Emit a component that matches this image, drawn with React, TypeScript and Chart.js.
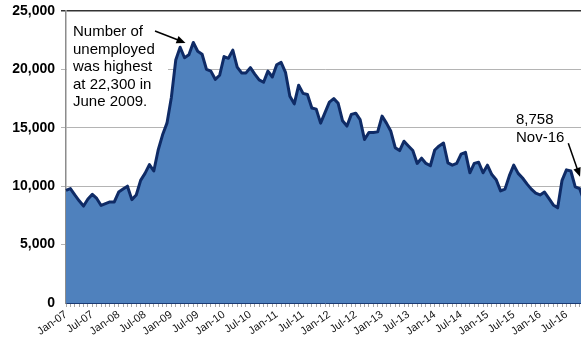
import { useEffect, useRef } from 'react';
import { Chart, registerables } from 'chart.js';

Chart.register(...registerables);

const MONTHS = ['Jan', 'Feb', 'Mar', 'Apr', 'May', 'Jun', 'Jul', 'Aug', 'Sep', 'Oct', 'Nov', 'Dec'];
const YEARS = ['07', '08', '09', '10', '11', '12', '13', '14', '15', '16'];

const v2007 = [9650, 9800, 9250, 8750, 8300, 8900, 9300, 8950, 8350, 8500, 8650, 8650];
const v2008 = [9500, 9750, 10000, 8850, 9250, 10500, 11100, 11850, 11300, 13100, 14400, 15400];
const v2009 = [17600, 20800, 21900, 21000, 21250, 22300, 21550, 21300, 20000, 19850, 19150, 19500];
const v2010 = [21100, 20950, 21650, 20200, 19700, 19700, 20150, 19600, 19100, 18900, 19850, 19350];
const v2011 = [20400, 20600, 19750, 17700, 17050, 18650, 17950, 17850, 16700, 16600, 15400, 16300];
const v2012 = [17200, 17500, 17100, 15600, 15150, 16150, 16250, 15700, 14000, 14600, 14600, 14650];
const v2013 = [16000, 15400, 14700, 13300, 13050, 13850, 13450, 13050, 11950, 12400, 11950, 11750];
const v2014 = [13100, 13450, 13700, 12000, 11800, 11950, 12750, 12900, 11150, 11950, 12050, 11150];
const v2015 = [11800, 11000, 10550, 9600, 9750, 10900, 11800, 11100, 10700, 10200, 9750, 9400];
const v2016 = [9250, 9500, 8950, 8400, 8150, 10500, 11400, 11300, 9950, 9800, 8758];

const VALUES = [...v2007, ...v2008, ...v2009, ...v2010, ...v2011, ...v2012, ...v2013, ...v2014, ...v2015, ...v2016];
const LABELS: string[] = [];
YEARS.forEach((y) => MONTHS.forEach((m) => LABELS.push(`${m}-${y}`)));
LABELS.length = VALUES.length;

const Y_MIN = 0;
const Y_MAX = 25000;
const Y_STEP = 5000;
const LABEL_EVERY = 6;

const PEAK_INDEX = VALUES.indexOf(Math.max(...VALUES));
const PEAK_VALUE = VALUES[PEAK_INDEX];
const LAST_INDEX = VALUES.length - 1;
const LAST_VALUE = VALUES[LAST_INDEX];

const FONT = '"Liberation Sans", Arial, sans-serif';
const CANVAS_W = 600;
const CANVAS_H = 338;
const PLOT_RIGHT = 584;

const fmt = (n: number) => n.toLocaleString('en-US');

function drawArrow(ctx: CanvasRenderingContext2D, x1: number, y1: number, x2: number, y2: number) {
  const ang = Math.atan2(y2 - y1, x2 - x1);
  const len = 9;
  const hw = 3.8;
  ctx.save();
  ctx.strokeStyle = '#000';
  ctx.fillStyle = '#000';
  ctx.lineWidth = 1.5;
  ctx.beginPath();
  ctx.moveTo(x1, y1);
  ctx.lineTo(x2 - Math.cos(ang) * len * 0.8, y2 - Math.sin(ang) * len * 0.8);
  ctx.stroke();
  ctx.beginPath();
  ctx.moveTo(x2, y2);
  ctx.lineTo(x2 - Math.cos(ang) * len - Math.sin(ang) * hw, y2 - Math.sin(ang) * len + Math.cos(ang) * hw);
  ctx.lineTo(x2 - Math.cos(ang) * len + Math.sin(ang) * hw, y2 - Math.sin(ang) * len - Math.cos(ang) * hw);
  ctx.closePath();
  ctx.fill();
  ctx.restore();
}

const annotationPlugin = {
  id: 'annotations',
  beforeDatasetsDraw(chart: any) {
    const { ctx, chartArea } = chart;
    ctx.save();
    ctx.fillStyle = '#fff';
    ctx.fillRect(chartArea.left + 1, chartArea.top + 2, 101, 99);
    ctx.restore();
  },
  afterDraw(chart: any) {
    const { ctx } = chart;
    const meta = chart.getDatasetMeta(0);
    const peak = meta.data[PEAK_INDEX];
    const last = meta.data[LAST_INDEX];
    drawArrow(ctx, peak.x - 38.3, peak.y - 11.6, peak.x - 7.8, peak.y + 0.4);
    drawArrow(ctx, last.x - 15.7, last.y - 57.4, last.x - 4, last.y - 24);
  },
};

export default function App() {
  const ref = useRef<HTMLCanvasElement>(null);

  useEffect(() => {
    const canvas = ref.current;
    if (!canvas) return;
    const chart = new Chart(canvas, {
      type: 'line',
      data: {
        labels: LABELS,
        datasets: [
          {
            data: VALUES,
            fill: 'origin',
            backgroundColor: '#4f81bd',
            borderColor: '#0f2b66',
            borderWidth: 3,
            borderJoinStyle: 'round',
            pointRadius: 0,
            tension: 0,
          },
        ],
      },
      options: {
        responsive: false,
        animation: false,
        devicePixelRatio: 1,
        layout: { padding: { top: 11, right: CANVAS_W - PLOT_RIGHT, left: 0, bottom: 0 } },
        plugins: { legend: { display: false }, tooltip: { enabled: false } },
        scales: {
          x: {
            type: 'category',
            offset: false,
            afterFit: (s: any) => {
              s.height = CANVAS_H - 303;
              s.paddingLeft = 0;
              s.paddingRight = 0;
            },
            border: { display: true, color: '#1b3a73', width: 1 },
            grid: { display: true, drawOnChartArea: false, tickLength: 4, color: '#a6a6a6', lineWidth: 1 },
            ticks: {
              autoSkip: false,
              maxRotation: 35,
              minRotation: 35,
              padding: 1,
              color: '#111',
              font: { family: FONT, size: 11 },
              callback: (_v: any, i: number) => (i % LABEL_EVERY === 0 ? LABELS[i] : ''),
            },
          },
          y: {
            min: Y_MIN,
            max: Y_MAX,
            afterFit: (s: any) => {
              s.width = 66;
              s.paddingTop = 0;
              s.paddingBottom = 0;
            },
            border: { display: true, color: '#8c8c8c', width: 1.5 },
            grid: {
              tickLength: 5,
              color: (c: any) =>
                c.tick && c.tick.value === Y_MAX ? '#333333' : c.tick && c.tick.value === Y_MIN ? 'rgba(0,0,0,0)' : '#b4b4b4',
              lineWidth: (c: any) => (c.tick && c.tick.value === Y_MAX ? 1.5 : 1),
            },
            ticks: {
              stepSize: Y_STEP,
              padding: 6,
              color: '#000',
              font: { family: FONT, size: 14, weight: 'bold' },
              callback: (v: any) => fmt(Number(v)),
            },
          },
        },
      },
      plugins: [annotationPlugin],
    } as any);
    return () => chart.destroy();
  }, []);

  const textStyle: any = {
    position: 'absolute',
    font: `15px ${FONT}`,
    lineHeight: '17.5px',
    color: '#000',
    whiteSpace: 'nowrap',
  };

  return (
    <div
      style={{
        position: 'fixed',
        left: 0,
        top: 0,
        width: 581,
        height: 338,
        overflow: 'hidden',
        background: '#fff',
      }}
    >
      <canvas ref={ref} width={CANVAS_W} height={CANVAS_H} style={{ display: 'block' }} />
      <div style={{ ...textStyle, left: 73, top: 22 }}>
        Number of
        <br />
        unemployed
        <br />
        was highest
        <br />
        at {fmt(PEAK_VALUE)} in
        <br />
        June 2009.
      </div>
      <div style={{ ...textStyle, left: 516, top: 110 }}>
        {fmt(LAST_VALUE)}
        <br />
        {LABELS[LAST_INDEX]}
      </div>
    </div>
  );
}
